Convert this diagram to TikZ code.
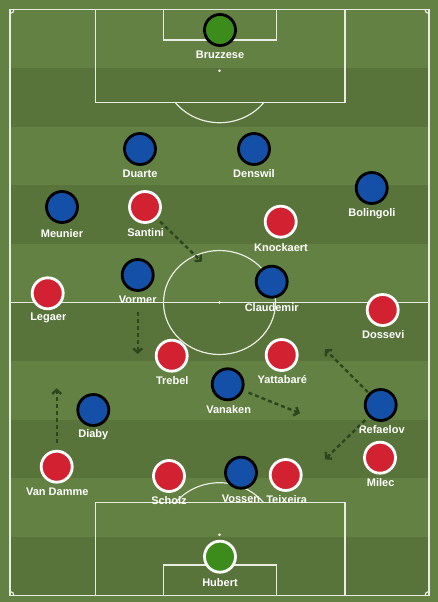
\documentclass[tikz,border=0pt]{standalone}
\usepackage{fontspec}
\setmainfont{Liberation Sans}
\usetikzlibrary{arrows.meta}
\definecolor{grassA}{RGB}{99,129,66}
\definecolor{grassB}{RGB}{88,116,58}
\definecolor{homered}{RGB}{210,34,50}
\definecolor{awayblue}{RGB}{20,80,168}
\definecolor{keepgreen}{RGB}{60,140,28}
\definecolor{runline}{RGB}{44,70,30}

\begin{document}
\begin{tikzpicture}[x=1pt, y=-1pt,
    pitch/.style={draw=white!85!grassA, line width=1.2pt},
    player/.style={circle, line width=2.8pt, minimum size=31pt, inner sep=0pt},
    home/.style={player, draw=white, fill=homered},
    away/.style={player, draw=black, fill=awayblue},
    homekeeper/.style={player, draw=white, fill=keepgreen},
    awaykeeper/.style={player, draw=black, fill=keepgreen},
    tag/.style={text=white, font=\fontsize{11}{12}\selectfont\bfseries, inner sep=1pt},
    run/.style={draw=runline, line width=2.4pt, dash pattern=on 4pt off 3pt,
                -{Straight Barb[length=4pt,width=9pt]}}]
    \useasboundingbox (0,0) rectangle (438,602);
    \fill[grassA] (0,0) rectangle (438,602);
    \foreach \i in {1,3,...,9}
        \fill[grassB] (10,{9.5+58.6*\i}) rectangle (429,{9.5+58.6*(\i+1)});

    \draw[pitch] (10,9.5) rectangle (429,595.5);
    \draw[pitch] (10,302.5) -- (429,302.5);
    \draw[pitch] (219.5,302.5) ellipse[x radius=56, y radius=52];
    \draw[pitch] (95.7,9.5) rectangle (345,102.3) (163.3,9.5) rectangle (276.7,40);
    \draw[pitch] (264,102.3) arc[start angle=37.4, end angle=142.6, x radius=56, y radius=52];
    \draw[pitch] (95.7,502.7) rectangle (345,595.5) (163.3,565) rectangle (276.7,595.5);
    \draw[pitch] (175.4,502.7) arc[start angle=218, end angle=322, x radius=56, y radius=52];
    \draw[pitch] (14,9.5) arc[start angle=0, end angle=90, radius=4]
                 (425,9.5) arc[start angle=180, end angle=90, radius=4]
                 (14,595.5) arc[start angle=0, end angle=-90, radius=4]
                 (425,595.5) arc[start angle=180, end angle=270, radius=4];
    \fill[white] (219.5,302.5) circle[radius=1.4] (219.5,70.7) circle[radius=1.4]
                 (219.5,534.7) circle[radius=1.4];

    \node[awaykeeper] (bru) at (220,30) {};
    \node[away] (dua) at (140,149) {};
    \node[away] (den) at (254,149) {};
    \node[away] (bol) at (371.7,188) {};
    \node[away] (meu) at (62,207) {};
    \node[away] (vor) at (137.7,275) {};
    \node[away] (cla) at (271.7,281.7) {};
    \node[away] (van) at (227.7,384.3) {};
    \node[away] (dia) at (93.3,410) {};
    \node[away] (ref) at (380.7,405) {};
    \node[away] (vos) at (241,472.7) {};

    \node[home] (san) at (145,207) {};
    \node[home] (kno) at (280.7,221.7) {};
    \node[home] (leg) at (47.7,293.3) {};
    \node[home] (dos) at (382.7,310) {};
    \node[home] (tre) at (171.7,355.7) {};
    \node[home] (yat) at (281.7,355) {};
    \node[home] (vdm) at (56.7,466.7) {};
    \node[home] (mil) at (380,457.7) {};
    \node[home] (sch) at (169,476) {};
    \node[home] (tei) at (285.7,475) {};
    \node[homekeeper] (hub) at (220,556.7) {};

    \node[tag] (bru-t) at (220,55) {Bruzzese};
    \node[tag] (dua-t) at (140,174) {Duarte};
    \node[tag] (den-t) at (254,174) {Denswil};
    \node[tag] (bol-t) at (372,213.3) {Bolingoli};
    \node[tag] (meu-t) at (62,233.3) {Meunier};
    \node[tag] (vor-t) at (137.7,300) {Vormer};
    \node[tag] (cla-t) at (271.7,307.3) {Claudemir};
    \node[tag] (van-t) at (228.7,410) {Vanaken};
    \node[tag] (dia-t) at (93.3,435) {Diaby};
    \node[tag] (ref-t) at (381.7,430) {Refaelov};
    \node[tag] (vos-t) at (241,498.3) {Vossen};
    \node[tag] (san-t) at (145.7,232.3) {Santini};
    \node[tag] (kno-t) at (281,247.3) {Knockaert};
    \node[tag] (leg-t) at (48.3,318.3) {Legaer};
    \node[tag] (dos-t) at (383.3,335) {Dossevi};
    \node[tag] (tre-t) at (172.3,381) {Trebel};
    \node[tag] (yat-t) at (282.3,380) {Yattabaré};
    \node[tag] (vdm-t) at (57.3,491.7) {Van Damme};
    \node[tag] (mil-t) at (380.7,482.7) {Milec};
    \node[tag] (sch-t) at (169,500.7) {Scholz};
    \node[tag] (tei-t) at (286.7,500) {Teixeira};
    \node[tag] (hub-t) at (220,582.3) {Hubert};

    \coordinate (san-to) at (201.7,261.7);
    \coordinate (vor-to) at (137.7,354);
    \coordinate (van-to) at (300,413.3);
    \coordinate (ref-up) at (325,349.3);
    \coordinate (ref-dn) at (325,459.3);
    \coordinate (vdm-to) at (56.7,388.3);

    \draw[run, shorten <=4pt] (san) -- (san-to);
    \draw[run, shorten <=19.8pt] (vor) -- (vor-to);
    \draw[run, shorten <=5.6pt] (van) -- (van-to);
    \draw[run, shorten <=1.3pt] (ref) -- (ref-up);
    \draw[run, shorten <=4.8pt] (ref) -- (ref-dn);
    \draw[run, shorten <=6.5pt] (vdm) -- (vdm-to);
\end{tikzpicture}
\end{document}
